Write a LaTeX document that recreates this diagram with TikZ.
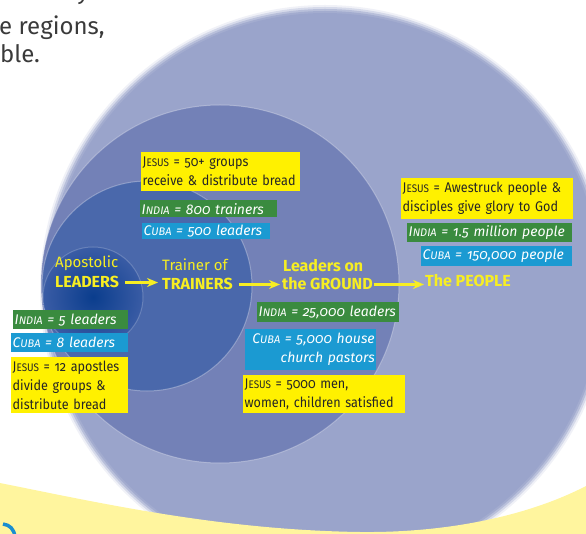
\documentclass[tikz,border=0pt]{standalone}
\usepackage{fontspec}
\setmainfont{Fira Sans}[Numbers=OldStyle]
\newfontfamily\boxfont{Fira Sans}[Numbers=OldStyle, FakeStretch=0.9]
\usetikzlibrary{arrows.meta}
\definecolor{ringfour}{HTML}{9AA4CB}
\definecolor{ringthree}{HTML}{7381B7}
\definecolor{ringtwo}{HTML}{4A68AB}
\definecolor{ringonein}{HTML}{0A3D8D}
\definecolor{ringoneout}{HTML}{3A5CA5}
\definecolor{boxyellow}{HTML}{FFF100}
\definecolor{boxgreen}{HTML}{3A8B3F}
\definecolor{boxblue}{HTML}{1B9AD2}
\definecolor{headyellow}{HTML}{F7EE22}
\definecolor{bandyellow}{HTML}{FFF59E}
\definecolor{textdark}{HTML}{262626}
\definecolor{bodygrey}{HTML}{3A3A3A}
\definecolor{swirlblue}{HTML}{1A8ED0}
\newcommand\smc[1]{{\fontsize{11}{11}\selectfont #1}}
\newcommand\nb[1]{\mbox{#1}}
\tikzset{
  lbl/.style={anchor=north west, inner xsep=1.5pt, inner ysep=0pt},
  jbox/.style={lbl, fill=boxyellow, text=textdark, align=left, font=\boxfont\fontsize{14}{19}\selectfont},
  ibox/.style={lbl, fill=boxgreen, text=white, align=left, font=\fontsize{14}{19}\selectfont\itshape},
  cbox/.style={lbl, fill=boxblue, text=white, align=left, font=\fontsize{14}{19}\selectfont\itshape},
  headr/.style={anchor=base west, inner sep=0pt, text=headyellow, font=\fontsize{15}{15}\selectfont},
  headb/.style={anchor=base west, inner sep=0pt, text=headyellow, font=\fontsize{16}{16}\selectfont\bfseries, text height=11pt, text depth=0pt},
  flow/.style={draw=headyellow, line width=2.6pt, -{Stealth[length=11pt,width=9pt]}},
  body/.style={anchor=base west, inner sep=0pt, text=bodygrey, font=\fontsize{24}{28}\selectfont},
  rim/.style={draw=white, draw opacity=0.3, line width=1pt}
}
\begin{document}
\begin{tikzpicture}[x=1pt,y=-1pt]
\useasboundingbox (0,0) rectangle (586,534);
\clip (0,0) rectangle (586,534);
% circles
\foreach \r/\o in {285/0.15,283/0.3,281/0.5,279/0.7,277/1} \fill[ringfour, opacity=\o] (325,290) circle (\r pt);
\fill[ringthree] (220,284) circle (179pt);
\draw[rim] (220,284) circle (179pt);
\fill[ringtwo] (147,286) circle (105pt);
\draw[rim] (147,286) circle (105pt);
\shade[inner color=ringonein, outer color=ringoneout] (93,297) circle (50pt);
\draw[rim, draw opacity=0.2] (93,297) circle (50pt);
% bottom band
\fill[bandyellow] (0,483) .. controls (100,503) and (220,530) .. (360,532) .. controls (450,533) and (530,515) .. (586,486) -- (586,534) -- (0,534) -- cycle;
\draw[swirlblue, line width=3.5pt] (3,524) .. controls (10,525) and (14,529) .. (15,537);
% body text
\node[body] (t0) at (77,0) {y};
\node[body] (t1) at (-1,35) {e regions,};
\node[body] (t2) at (0,63) {ble.};
% headings
\node[headr] (apos) at (55,268) {Apostolic};
\node[headb] (leaders) at (55,288) {LEADERS};
\node[headr] (trainA) at (162,271) {Trainer of};
\node[headb] (trainB) at (162,290) {TRAINERS};
\node[headb] (groundA) at (283,272) {Leaders on};
\node[headb] (groundB) at (282,290) {the GROUND};
\node[headb] (people) at (425,287) {The PEOPLE};
\draw[flow, shorten <=6pt, shorten >=4pt] (leaders.east) -- (leaders.east -| trainB.west);
\draw[flow, shorten <=6pt, shorten >=2pt] (trainB.east) -- (trainB.east -| groundB.west);
\draw[flow, shorten <=1pt, shorten >=1pt] (groundB.east) -- (groundB.east -| people.west);
% boxes
\node[jbox, text width=156pt, minimum height=39pt] (yA) at (141,152) {\nb{J\smc{ESUS} = 50+ groups}\\\nb{receive \& distribute bread}};
\node[ibox, text width=134pt, minimum height=17pt] (gA) at (140,200) {\nb{I\smc{NDIA} = 800 trainers}};
\node[cbox, text width=125pt, minimum height=16pt] (bA) at (142,223) {\nb{C\smc{UBA} = 500 leaders}};
\node[ibox, text width=112pt, minimum height=19pt] (gB) at (13,310) {\nb{I\smc{NDIA} = 5 leaders}};
\node[cbox, text width=114pt, minimum height=19pt] (bB) at (11,333) {\nb{C\smc{UBA} = 8 leaders}};
\node[jbox, text width=114pt, minimum height=56pt] (yB) at (11,357) {\nb{J\smc{ESUS} = 12 apostles}\\\nb{divide groups \&}\\\nb{distribute bread}};
\node[ibox, text width=139pt, minimum height=20pt] (gC) at (257,302) {\nb{I\smc{NDIA} = 25,000 leaders}};
\node[cbox, align=right, text width=128pt, minimum height=41pt] (bC) at (245,329) {\nb{C\smc{UBA} = 5,000 house}\\\nb{church pastors}};
\node[jbox, text width=159pt, minimum height=38pt] (yC) at (243,375) {\nb{J\smc{ESUS} = 5000 men,}\\\nb{women, children satisfied}};
\node[jbox, text width=169pt, minimum height=41pt] (yD) at (401,178) {\nb{J\smc{ESUS} = Awestruck people \&}\\\nb{disciples give glory to God}};
\node[ibox, text width=162pt, minimum height=19pt] (gD) at (407,223) {\nb{I\smc{NDIA} = 1.5 million people}};
\node[cbox, text width=148pt, minimum height=20pt] (bD) at (421,246) {\nb{C\smc{UBA} = 150,000 people}};
\end{tikzpicture}
\end{document}
